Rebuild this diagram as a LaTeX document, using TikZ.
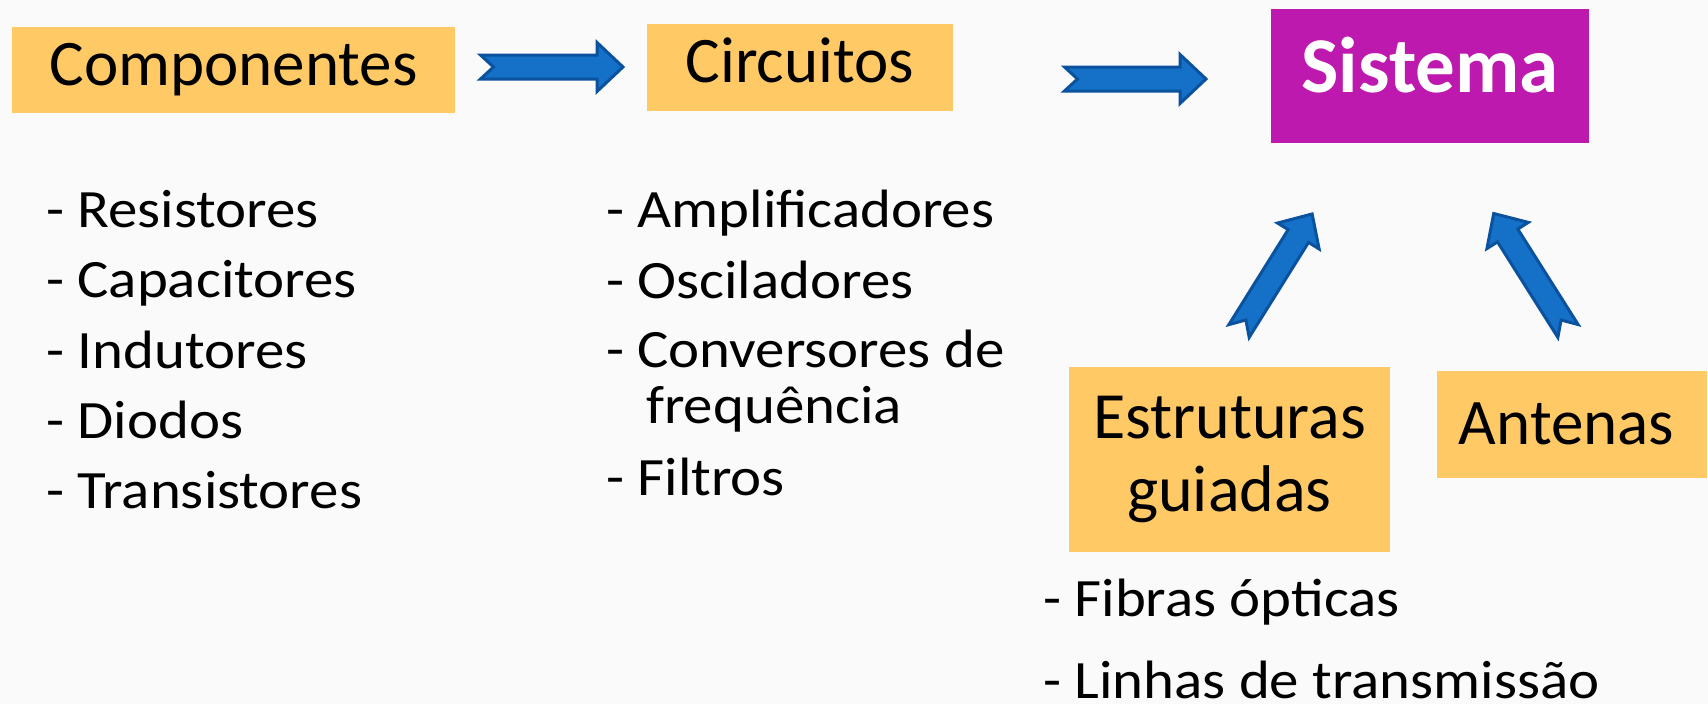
\documentclass[tikz,border=0pt]{standalone}
\usepackage{fontspec}
\setmainfont{Carlito}
\usepackage{graphicx}
\definecolor{boxorange}{HTML}{FFCA66}
\definecolor{sysmag}{HTML}{BE19AE}
\definecolor{arrfill}{HTML}{1570C8}
\definecolor{arrline}{HTML}{0B529E}
\definecolor{bg}{HTML}{FAFAFA}
\newcommand\itemtxt[1]{\scalebox{1.09}[1]{#1}}
\tikzset{
  hdr/.style={fill=boxorange, inner sep=0pt, font=\fontsize{65}{73}\selectfont, text height=44pt, text depth=14pt},
  sysbox/.style={fill=sysmag, text=white, inner sep=0pt, font=\fontsize{79}{90}\selectfont\bfseries, text height=50pt, text depth=18pt},
  item/.style={anchor=base west, inner sep=0pt, font=\fontsize{54}{60}\selectfont},
  blk/.style={fill=arrfill, draw=arrline, line width=3pt, line join=miter},
  pics/barrow/.style={code={\path[blk] (0,-12) -- ({#1-26},-12) -- ({#1-26},-24.5) -- (#1,0) -- ({#1-26},24.5) -- ({#1-26},12) -- (0,12) -- (13,0) -- cycle;}}
}
\begin{document}
\begin{tikzpicture}[x=1pt,y=-1pt]
\useasboundingbox (0,0) rectangle (1708,704);
\fill[bg] (0,0) rectangle (1708,704);
% boxes
\node[hdr, minimum width=443pt, minimum height=86pt] (comp) at (233.5,70) {Componentes};
\node[hdr, minimum width=306pt, minimum height=87pt, text depth=15pt] (circ) at (800,67.5) {Circuitos};
\node[sysbox, minimum width=318pt, minimum height=134pt] (sys) at (1430,76) {Sistema};
\node[fill=boxorange, inner sep=0pt, font=\fontsize{66}{73}\selectfont, align=center, minimum width=321pt, minimum height=185pt] (estr) at (1229.5,459.5) {Estruturas\\guiadas\rule[-3pt]{0pt}{0pt}};
\node[hdr, minimum width=270pt, minimum height=107pt, text height=50pt, text depth=11pt] (ant) at (1572,424.5) {Antenas\hspace*{11pt}};
% arrows
\coordinate (a1) at (480.5,67);
\coordinate (a2) at (1064.5,79);
\coordinate (a3) at (1239,331);
\coordinate (a4) at (1568,331);
\pic at (a1) {barrow=142.5};
\pic at (a2) {barrow=141.5};
\pic[rotate=58] at (a3) {barrow=138};
\pic[rotate=122.3] at (a4) {barrow=139};
% lists
\node[item] (c1) at (46,227) {\itemtxt{- Resistores}};
\node[item] (c2) at (46,297) {\itemtxt{- Capacitores}};
\node[item] (c3) at (46,368) {\itemtxt{- Indutores}};
\node[item] (c4) at (46,438) {\itemtxt{- Diodos}};
\node[item] (c5) at (46,508) {\itemtxt{- Transistores}};
\node[item] (k1) at (606,227) {\itemtxt{- Amplificadores}};
\node[item] (k2) at (606,298) {\itemtxt{- Osciladores}};
\node[item] (k3) at (606,367) {\itemtxt{- Conversores de}};
\node[item] (k4) at (646,423) {\itemtxt{frequência}};
\node[item] (k5) at (606,495) {\itemtxt{- Filtros}};
\node[item] (e1) at (1043,616) {\itemtxt{- Fibras ópticas}};
\node[item] (e2) at (1043,698) {\itemtxt{- Linhas de transmissão}};
\end{tikzpicture}
\end{document}
